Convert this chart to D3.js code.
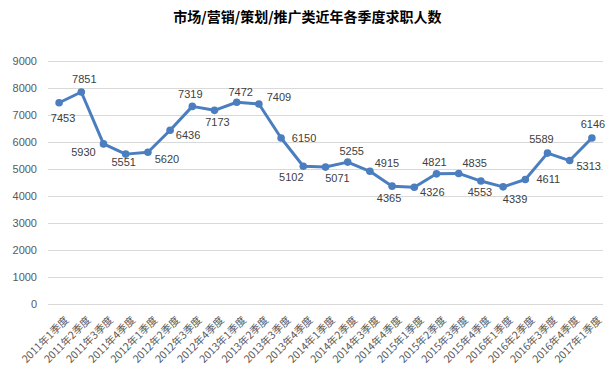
<!DOCTYPE html>
<html>
<head>
<meta charset="utf-8">
<script src="https://cdn.jsdelivr.net/npm/d3@7"></script>
<style>
  body { margin: 0; background: #fff; }
  svg { display: block; }
</style>
</head>
<body>
<div id="chart"></div>
<script>
// data
const quarters = [
  "2011年1季度", "2011年2季度", "2011年3季度", "2011年4季度",
  "2012年1季度", "2012年2季度", "2012年3季度", "2012年4季度",
  "2013年1季度", "2013年2季度", "2013年3季度", "2013年4季度",
  "2014年1季度", "2014年2季度", "2014年3季度", "2014年4季度",
  "2015年1季度", "2015年2季度", "2015年3季度", "2015年4季度",
  "2016年1季度", "2016年2季度", "2016年3季度", "2016年4季度",
  "2017年1季度"
];
const applicants = [
  7453, 7851, 5930, 5551, 5620, 6436, 7319, 7173, 7472, 7409,
  6150, 5102, 5071, 5255, 4915, 4365, 4326, 4821, 4835, 4553,
  4339, 4611, 5589, 5313, 6146
];
const yTicks = [0, 1000, 2000, 3000, 4000, 5000, 6000, 7000, 8000, 9000];

// where each value label sits relative to its point (layout only)
const labelOffsets = [
  [4, 15], [3, -13], [-20, 8], [-2, 8], [19, 7], [18, 5], [-2, -12], [3, 12],
  [4, -10], [20, -7], [23, 0], [-12, 11], [12, 11], [4, -11], [17, -8], [-3, 12],
  [18, 5], [-2, -12], [16, -10], [-1, 11], [12, 12], [23, 0], [-6, -14], [19, 6],
  [1, -14]
];

const width = 615, height = 377;
const margin = { top: 61, right: 12, bottom: 73, left: 48 };
const innerW = width - margin.left - margin.right;
const innerH = height - margin.top - margin.bottom;

const svg = d3.select("#chart")
  .append("svg")
  .attr("width", width)
  .attr("height", height);

svg.append("text")
  .attr("x", width / 2)
  .attr("y", 22)
  .attr("text-anchor", "middle")
  .attr("font-family", "'Noto Sans CJK SC', sans-serif")
  .attr("font-size", 14)
  .attr("font-weight", "bold")
  .attr("fill", "#000")
  .text("市场/营销/策划/推广类近年各季度求职人数");

const chart = svg.append("g")
  .attr("transform", `translate(${margin.left},${margin.top})`);

const x = d3.scalePoint()
  .domain(quarters)
  .range([0, innerW])
  .padding(0.5);

const y = d3.scaleLinear()
  .domain([0, 9000])
  .range([innerH, 0]);

// gridlines
chart.append("g")
  .selectAll("line")
  .data(yTicks)
  .enter().append("line")
  .attr("x1", 0)
  .attr("x2", innerW)
  .attr("y1", d => Math.round(y(d)) + 0.5)
  .attr("y2", d => Math.round(y(d)) + 0.5)
  .attr("stroke", "#d9d9d9")
  .attr("stroke-width", 1);

// y labels
const yAxis = chart.append("g")
  .call(d3.axisLeft(y).tickValues(yTicks).tickFormat(d3.format("d")).tickSize(0).tickPadding(11));
yAxis.select(".domain").remove();
yAxis.selectAll("text")
  .attr("font-family", "'Liberation Sans', Arial, sans-serif")
  .attr("font-size", 11)
  .attr("fill", "#595959");

// x labels, rotated
const xAxis = chart.append("g")
  .attr("transform", `translate(0,${innerH})`)
  .call(d3.axisBottom(x).tickSize(0));
xAxis.select(".domain").remove();
xAxis.selectAll("text")
  .attr("font-family", "'Noto Sans CJK SC', sans-serif")
  .attr("font-size", 10.5)
  .attr("fill", "#595959")
  .attr("text-anchor", "end")
  .attr("dy", "0.35em")
  .attr("transform", "translate(5,12) rotate(-45)");

const line = d3.line()
  .x((d, i) => x(quarters[i]))
  .y(d => y(d));

chart.append("path")
  .datum(applicants)
  .attr("fill", "none")
  .attr("stroke", "#4a7ebf")
  .attr("stroke-width", 3)
  .attr("stroke-linejoin", "round")
  .attr("d", line);

chart.append("g")
  .selectAll("circle")
  .data(applicants)
  .enter().append("circle")
  .attr("cx", (d, i) => x(quarters[i]))
  .attr("cy", d => y(d))
  .attr("r", 3.8)
  .attr("fill", "#4a7ebf");

chart.append("g")
  .selectAll("text")
  .data(applicants)
  .enter().append("text")
  .attr("x", (d, i) => x(quarters[i]) + labelOffsets[i][0])
  .attr("y", (d, i) => y(d) + labelOffsets[i][1])
  .attr("dy", "0.35em")
  .attr("text-anchor", "middle")
  .attr("font-family", "'Liberation Sans', Arial, sans-serif")
  .attr("font-size", 11)
  .attr("fill", "#404040")
  .text(d => d);
</script>
</body>
</html>
